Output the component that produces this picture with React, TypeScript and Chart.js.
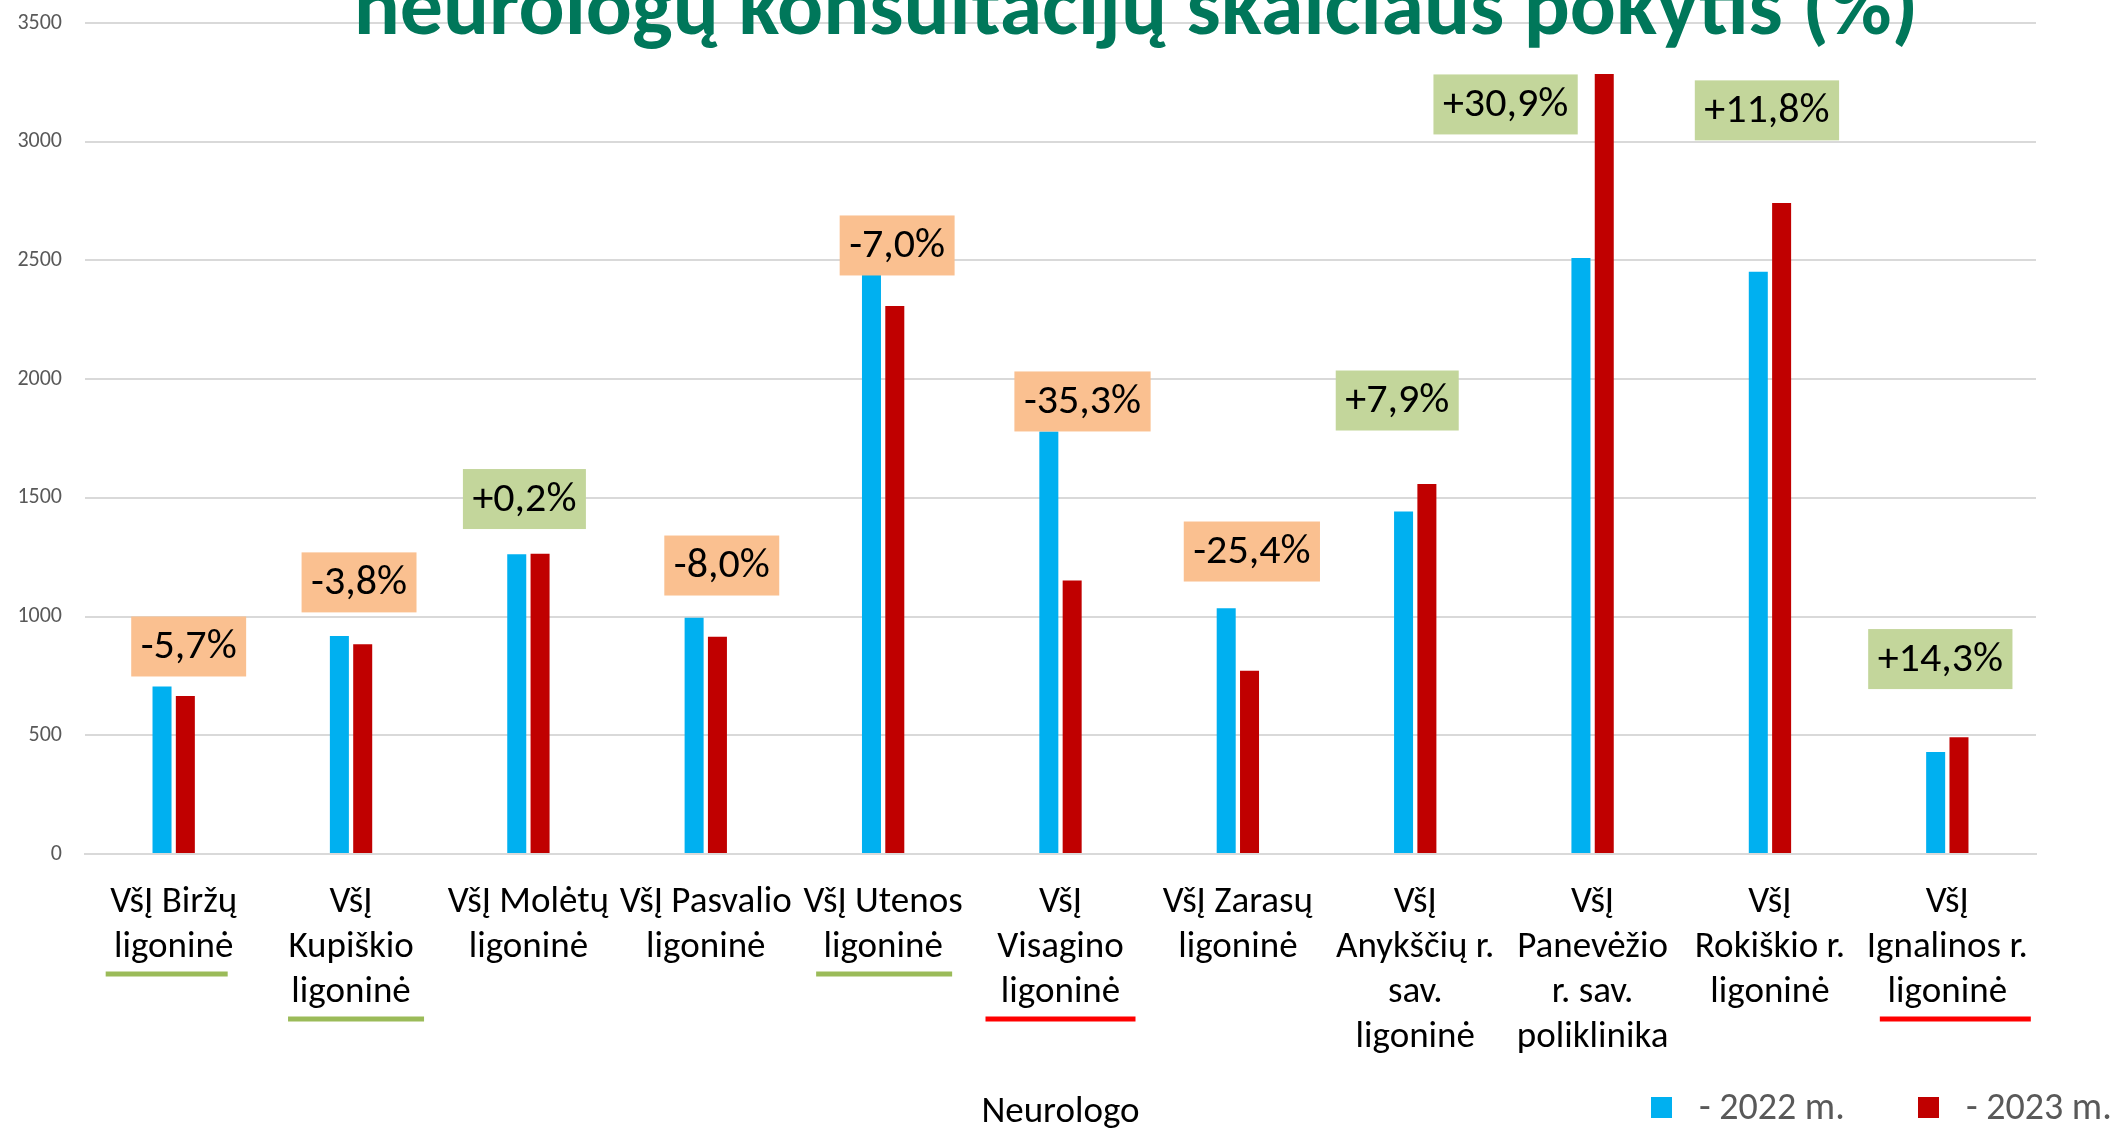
import React, { useEffect, useRef } from "react";
import { Chart, registerables } from "chart.js";

Chart.register(...registerables);

const FONT = "Carlito, 'Liberation Sans Narrow', 'DejaVu Sans Condensed', sans-serif";

const titleText = "neurologų konsultacijų skaičiaus pokytis (%)";
const axisTitle = "Neurologo";

const categories: string[][] = [
  ["VšĮ Biržų", "ligoninė"],
  ["VšĮ", "Kupiškio", "ligoninė"],
  ["VšĮ Molėtų", "ligoninė"],
  ["VšĮ Pasvalio", "ligoninė"],
  ["VšĮ Utenos", "ligoninė"],
  ["VšĮ", "Visagino", "ligoninė"],
  ["VšĮ Zarasų", "ligoninė"],
  ["VšĮ", "Anykščių r.", "sav.", "ligoninė"],
  ["VšĮ", "Panevėžio", "r. sav.", "poliklinika"],
  ["VšĮ", "Rokiškio r.", "ligoninė"],
  ["VšĮ", "Ignalinos r.", "ligoninė"],
];

const seriesLabels = ["2022 m.", "2023 m."];
const values2022 = [705, 918, 1262, 995, 2482, 1780, 1035, 1443, 2510, 2452, 430];
const values2023 = [665, 883, 1265, 915, 2308, 1152, 772, 1558, 3285, 2742, 492];

const changeLabels = ["-5,7%", "-3,8%", "+0,2%", "-8,0%", "-7,0%", "-35,3%", "-25,4%", "+7,9%", "+30,9%", "+11,8%", "+14,3%"];
// vertical anchor of each change label, in data units
const changeLabelValue = [874, 1144, 1495, 1215, 2563, 1906, 1274, 1910, 3157, 3132, 821];
const changeLabelShift = [15, 8, -4, 16, 14, 22, 14, -18, -87, -3, -7];

// underline markers below category labels: "good" (green) / "bad" (red) / null
const underlineKind: (string | null)[] = ["good", "good", null, null, "good", "bad", null, null, null, null, "bad"];
const underlineWidth = [122, 136, 0, 0, 136, 150, 0, 0, 0, 0, 151];
const underlineShift = [-7, 5, 0, 0, 1, 0, 0, 0, 0, 0, 8];

const yTicks = [0, 500, 1000, 1500, 2000, 2500, 3000, 3500];

const COLORS = {
  blue: "#00B0F0",
  red: "#C00000",
  grid: "#D9D9D9",
  tick: "#595959",
  title: "#00775A",
  boxNeg: "#FAC090",
  boxPos: "#C3D69B",
  lineGood: "#9BBB59",
  lineBad: "#FF0000",
};

const X_FONT_SIZE = 37;
const X_LINE_H = 45;
const X_PAD = 26;
const Y_FONT_SIZE = 22;

const overlayPlugin = {
  id: "overlay",
  afterDatasetsDraw(chart: any) {
    const { ctx, scales } = chart;
    const xs = scales.x;
    const ys = scales.y;
    ctx.save();
    ctx.font = `42px ${FONT}`;
    ctx.textAlign = "center";
    ctx.textBaseline = "middle";
    changeLabels.forEach((t, i) => {
      const cx = xs.getPixelForValue(i) + changeLabelShift[i];
      const cy = ys.getPixelForValue(changeLabelValue[i]);
      const w = ctx.measureText(t).width + 19;
      const h = 60;
      ctx.fillStyle = t.startsWith("-") ? COLORS.boxNeg : COLORS.boxPos;
      ctx.fillRect(cx - w / 2, cy - h / 2, w, h);
      ctx.fillStyle = "#000";
      ctx.fillText(t, cx, cy + 1);
    });
    ctx.restore();
  },
  afterDraw(chart: any) {
    const { ctx, scales, chartArea } = chart;
    const xs = scales.x;
    ctx.save();
    // underlines
    underlineKind.forEach((k, i) => {
      if (!k) return;
      const n = categories[i].length;
      const cx = xs.getPixelForValue(i) + underlineShift[i];
      const y = chartArea.bottom + X_PAD + X_LINE_H * n + 4;
      ctx.fillStyle = k === "good" ? COLORS.lineGood : COLORS.lineBad;
      ctx.fillRect(cx - underlineWidth[i] / 2, y - 2.5, underlineWidth[i], 5);
    });
    // title, fitted to the reference width
    ctx.font = `bold 100px ${FONT}`;
    const tw = ctx.measureText(titleText).width;
    const size = (100 * 1565) / tw;
    ctx.font = `bold ${size}px ${FONT}`;
    ctx.fillStyle = COLORS.title;
    ctx.textAlign = "center";
    ctx.textBaseline = "alphabetic";
    ctx.fillText(titleText, 1136, 34);
    // axis title
    ctx.font = `${X_FONT_SIZE}px ${FONT}`;
    ctx.fillStyle = "#000";
    ctx.fillText(axisTitle, (chartArea.left + chartArea.right) / 2, 1122);
    // legend
    const legendX = [1651, 1918];
    const dsColors = [COLORS.blue, COLORS.red];
    ctx.textAlign = "left";
    ctx.font = `38px ${FONT}`;
    seriesLabels.forEach((s, i) => {
      ctx.fillStyle = dsColors[i];
      ctx.fillRect(legendX[i], 1097, 21, 21);
      ctx.fillStyle = COLORS.tick;
      ctx.fillText("- " + s, legendX[i] + 48, 1119);
    });
    ctx.restore();
  },
};

export default function App() {
  const ref = useRef<HTMLCanvasElement | null>(null);
  useEffect(() => {
    document.body.style.margin = "0";
    const canvas = ref.current!;
    const chart = new Chart(canvas, {
      type: "bar",
      data: {
        labels: categories,
        datasets: [
          { label: seriesLabels[0], data: values2022, backgroundColor: COLORS.blue },
          { label: seriesLabels[1], data: values2023, backgroundColor: COLORS.red },
        ],
      },
      options: {
        responsive: false,
        animation: false,
        devicePixelRatio: 1,
        layout: { padding: { top: 23, right: 75, bottom: 0, left: 0 } },
        datasets: { bar: { categoryPercentage: 0.263, barPercentage: 0.815 } },
        plugins: { legend: { display: false }, tooltip: { enabled: false }, title: { display: false } },
        scales: {
          x: {
            grid: { display: false, drawTicks: false },
            border: { display: true, color: COLORS.grid, width: 2 },
            ticks: {
              autoSkip: false,
              maxRotation: 0,
              minRotation: 0,
              padding: X_PAD,
              color: "#000",
              font: { family: FONT, size: X_FONT_SIZE, lineHeight: X_LINE_H / X_FONT_SIZE },
            },
            afterFit(scale: any) {
              scale.height = 274;
              scale.paddingLeft = 0;
              scale.paddingRight = 0;
            },
          },
          y: {
            min: 0,
            max: 3500,
            afterBuildTicks(scale: any) {
              scale.ticks = yTicks.map((v) => ({ value: v }));
            },
            grid: { color: COLORS.grid, lineWidth: 2, drawTicks: false },
            border: { display: false },
            ticks: {
              padding: 23,
              color: COLORS.tick,
              font: { family: FONT, size: Y_FONT_SIZE, lineHeight: 1.2 },
              callback: (v: any) => String(v),
            },
            afterFit(scale: any) {
              scale.width = 85;
              scale.paddingTop = 0;
              scale.paddingBottom = 0;
            },
          },
        },
      },
      plugins: [overlayPlugin],
    });
    return () => chart.destroy();
  }, []);
  return (
    <div style={{ width: 2111, height: 1128, background: "#fff" }}>
      <canvas ref={ref} width={2111} height={1128} />
    </div>
  );
}
